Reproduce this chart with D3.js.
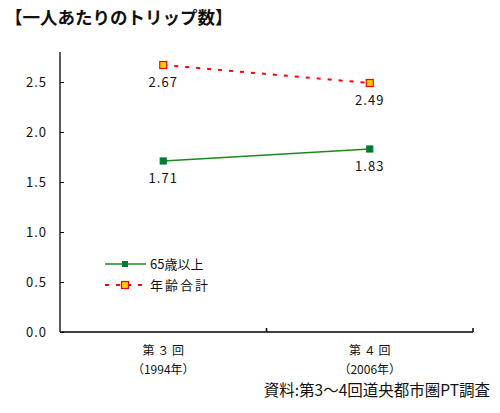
<!DOCTYPE html>
<html>
<head>
<meta charset="utf-8">
<script src="https://cdn.jsdelivr.net/npm/d3@7"></script>
<style>
  body { margin: 0; background: #fff; }
  text { font-family: "Noto Sans CJK JP", "Noto Sans", sans-serif; fill: #111; }
</style>
</head>
<body>
<div id="chart"></div>
<script>
var categories = ["第３回", "第４回"];
var years = ["（1994年）", "（2006年）"];
var elderly = [1.71, 1.83];   // 65歳以上
var total = [2.67, 2.49];     // 年齢合計
var yTicks = [0, 0.5, 1.0, 1.5, 2.0, 2.5];
var seriesNames = ["65歳以上", "年齢合計"];

var W = 500, H = 413;
var margin = { top: 52, right: 27, bottom: 81, left: 60 },
    width = W - margin.left - margin.right,
    height = H - margin.top - margin.bottom;

var svg = d3.select("#chart").append("svg")
    .attr("width", W)
    .attr("height", H);

svg.append("text")
    .attr("x", 5)
    .attr("y", 24)
    .style("font-size", "17.5px")
    .style("font-weight", "bold")
    .text("【一人あたりのトリップ数】");

var g = svg.append("g")
    .attr("transform", "translate(" + margin.left + "," + margin.top + ")");

var x = d3.scaleBand().domain(categories).range([0, width]).padding(0);
var y = d3.scaleLinear().domain([0, 2.8]).range([height, 0]);
var cx = function(i) { return x(categories[i]) + x.bandwidth() / 2; };

// y axis
var yAxis = d3.axisRight(y).tickValues(yTicks).tickSize(4).tickFormat("");
var ya = g.append("g").call(yAxis);
ya.select(".domain").attr("d", "M0," + y(0) + "V0").attr("stroke", "#000").attr("stroke-width", 1.3);
ya.selectAll(".tick line").attr("stroke", "#000");

g.selectAll(".ylab")
    .data(yTicks)
  .enter().append("text")
    .attr("class", "ylab")
    .attr("x", -13)
    .attr("y", function(d) { return y(d); })
    .attr("dy", "0.35em")
    .style("text-anchor", "end")
    .style("font-size", "13px")
    .style("letter-spacing", "1px")
    .text(function(d) { return d3.format(".1f")(d); });

// x axis
g.append("line")
    .attr("x1", 0).attr("x2", width)
    .attr("y1", height).attr("y2", height)
    .attr("stroke", "#000").attr("stroke-width", 1.3);
g.selectAll(".xtick")
    .data(categories)
  .enter().append("line")
    .attr("class", "xtick")
    .attr("x1", function(d) { return x(d) + x.bandwidth(); })
    .attr("x2", function(d) { return x(d) + x.bandwidth(); })
    .attr("y1", height).attr("y2", height - 4)
    .attr("stroke", "#000").attr("stroke-width", 1.5);

g.selectAll(".xlab")
    .data(categories)
  .enter().append("text")
    .attr("class", "xlab")
    .attr("x", function(d) { return x(d) + x.bandwidth() / 2; })
    .attr("y", height + 23)
    .style("text-anchor", "middle")
    .style("font-size", "12px")
    .text(function(d) { return d.replace("回", " 回").replace("第", "第 "); });

g.selectAll(".xyear")
    .data(years)
  .enter().append("text")
    .attr("class", "xyear")
    .attr("x", function(d, i) { return cx(i); })
    .attr("y", height + 42)
    .style("text-anchor", "middle")
    .style("font-size", "12px")
    .text(function(d) { return d; });

// lines
var line = d3.line()
    .x(function(d, i) { return cx(i); })
    .y(function(d) { return y(d); });

g.append("path")
    .datum(total)
    .attr("d", line)
    .attr("fill", "none")
    .attr("stroke", "#ff0000")
    .attr("stroke-width", 2)
    .attr("stroke-dasharray", "4,7");

g.append("path")
    .datum(elderly)
    .attr("d", line)
    .attr("fill", "none")
    .attr("stroke", "#1a8a1a")
    .attr("stroke-width", 1.5);

function markers(data, fill, stroke, size) {
  g.selectAll(null)
      .data(data)
    .enter().append("rect")
      .attr("x", function(d, i) { return cx(i) - size / 2; })
      .attr("y", function(d) { return y(d) - size / 2; })
      .attr("width", size)
      .attr("height", size)
      .attr("fill", fill)
      .attr("stroke", stroke)
      .attr("stroke-width", 1.2);
}
markers(total, "#ffcc00", "#ff0000", 7);
markers(elderly, "#007a33", "#007a33", 6);

function valueLabels(data) {
  g.selectAll(null)
      .data(data)
    .enter().append("text")
      .attr("x", function(d, i) { return cx(i); })
      .attr("y", function(d) { return y(d) + 22; })
      .style("text-anchor", "middle")
      .style("font-size", "13px")
      .style("letter-spacing", "1px")
      .text(function(d) { return d3.format(".2f")(d); });
}
valueLabels(total);
valueLabels(elderly);

// legend
var legend = svg.append("g").attr("transform", "translate(105,264)");
legend.append("line")
    .attr("x1", 0).attr("x2", 41).attr("y1", 0).attr("y2", 0)
    .attr("stroke", "#1a8a1a").attr("stroke-width", 1.5);
legend.append("rect")
    .attr("x", 17).attr("y", -3).attr("width", 6).attr("height", 6)
    .attr("fill", "#007a33");
legend.append("text")
    .attr("x", 45).attr("y", 0).attr("dy", "0.35em")
    .style("font-size", "13px")
    .text(seriesNames[0]);

var leg2 = legend.append("g").attr("transform", "translate(0,21)");
leg2.append("line")
    .attr("x1", 0).attr("x2", 41).attr("y1", 0).attr("y2", 0)
    .attr("stroke", "#ff0000").attr("stroke-width", 2)
    .attr("stroke-dasharray", "4,7");
leg2.append("rect")
    .attr("x", 16.5).attr("y", -3.5).attr("width", 7).attr("height", 7)
    .attr("fill", "#ffcc00").attr("stroke", "#ff0000").attr("stroke-width", 1.2);
leg2.append("text")
    .attr("x", 45).attr("y", 0).attr("dy", "0.35em")
    .style("font-size", "13px")
    .style("letter-spacing", "2px")
    .text(seriesNames[1]);

svg.append("text")
    .attr("x", 490)
    .attr("y", 396)
    .style("text-anchor", "end")
    .style("font-size", "15.5px")
    .text("資料:第3～4回道央都市圏PT調査");
</script>
</body>
</html>
